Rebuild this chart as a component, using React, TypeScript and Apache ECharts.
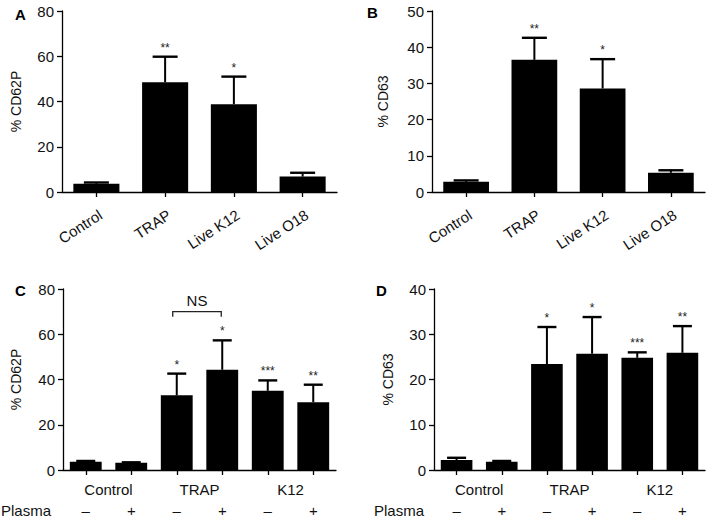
import React, { useEffect, useRef } from "react";
import * as echarts from "echarts";

const catsAB = ["Control", "TRAP", "Live K12", "Live O18"];
const aMean = [3.6, 48.5, 38.8, 6.8];
const aErr = [0.6, 11.3, 12.2, 1.7];
const aStars = ["", "**", "*", ""];
const bMean = [2.8, 36.5, 28.6, 5.3];
const bErr = [0.4, 6.1, 8.1, 0.7];
const bStars = ["", "**", "*", ""];

const groupsCD = ["Control", "TRAP", "K12"];
const plasmaSigns = ["\u2013", "+", "\u2013", "+", "\u2013", "+"];
const cMean = [3.7, 3.2, 33.0, 44.3, 35.0, 30.0];
const cErr = [0.3, 0.2, 9.6, 13.0, 4.6, 7.7];
const cStars = ["", "", "*", "*", "***", "**"];
const dMean = [2.2, 1.8, 23.4, 25.7, 24.8, 25.9];
const dErr = [0.5, 0.2, 8.2, 8.1, 1.2, 5.9];
const dStars = ["", "", "*", "*", "***", "**"];

const nsBracket = { from: 2, to: 3, value: 70, label: "NS" };

const FONT = "'Liberation Sans', Arial, Helvetica, sans-serif";
const INK = "#111";

function errSeries(idx: number, mean: number[], err: number[], stars: string[], capHalf: number) {
  return {
    type: "custom",
    xAxisIndex: idx === 0 ? 0 : idx === 1 ? 1 : idx === 2 ? 2 : 4,
    yAxisIndex: idx,
    z: 5,
    data: mean.map((m, i) => [i, m, err[i]]),
    renderItem: (params: any, api: any) => {
      const i = api.value(0);
      const m = api.value(1);
      const e = api.value(2);
      const base = api.coord([i, m]);
      const top = api.coord([i, m + e]);
      const children: any[] = [
        {
          type: "line",
          shape: { x1: top[0], y1: base[1], x2: top[0], y2: top[1] },
          style: { stroke: "#000", lineWidth: 2 },
        },
        {
          type: "line",
          shape: { x1: top[0] - capHalf, y1: top[1], x2: top[0] + capHalf, y2: top[1] },
          style: { stroke: "#000", lineWidth: 2.4 },
        },
      ];
      const s = stars[params.dataIndex];
      if (s) {
        children.push({
          type: "text",
          x: top[0],
          y: top[1] - 9,
          style: {
            text: s,
            fontSize: 12,
            fontFamily: FONT,
            fill: "#222",
            align: "center",
            verticalAlign: "middle",
          },
        });
      }
      return { type: "group", children };
    },
  };
}

function barSeries(xi: number, yi: number, mean: number[], gap: string) {
  return {
    type: "bar",
    xAxisIndex: xi,
    yAxisIndex: yi,
    data: mean,
    barCategoryGap: gap,
    itemStyle: { color: "#000" },
    z: 2,
  };
}

function yAxis(grid: number, max: number, interval: number, name: string, gap: number) {
  return {
    type: "value",
    gridIndex: grid,
    min: 0,
    max,
    interval,
    name,
    nameLocation: "middle",
    nameGap: gap,
    nameTextStyle: { fontSize: 14, fontFamily: FONT, color: INK },
    axisLine: { show: true, lineStyle: { color: "#000", width: 1.3 } },
    axisTick: { show: true, length: 5, lineStyle: { color: "#000", width: 1.3 } },
    axisLabel: { fontSize: 15, fontFamily: FONT, color: INK, margin: 8 },
    splitLine: { show: false },
  };
}

function mainX(grid: number, data: string[], labelOpts: any) {
  return {
    type: "category",
    gridIndex: grid,
    position: "bottom",
    data,
    axisLine: { show: true, lineStyle: { color: "#000", width: 1.3 } },
    axisTick: { show: true, alignWithLabel: true, length: 5, lineStyle: { color: "#000", width: 1.3 } },
    axisLabel: { fontSize: 15, fontFamily: FONT, color: INK, interval: 0, ...labelOpts },
    splitLine: { show: false },
  };
}

function groupX(grid: number) {
  return {
    type: "category",
    gridIndex: grid,
    position: "bottom",
    data: groupsCD,
    axisLine: { show: false },
    axisTick: { show: false },
    axisLabel: { fontSize: 15, fontFamily: FONT, color: INK, margin: 12, interval: 0 },
    splitLine: { show: false },
  };
}

export default function App() {
  const ref = useRef<HTMLDivElement>(null);
  useEffect(() => {
    if (!ref.current) return;
    const chart = echarts.init(ref.current, undefined, { renderer: "svg" });
    const letter = (t: string, x: number, y: number) => ({
      type: "text",
      x,
      y,
      style: { text: t, fontSize: 15, fontWeight: "bold", fontFamily: FONT, fill: "#000", verticalAlign: "middle" },
    });
    const plasma = (x: number) => ({
      type: "text",
      x,
      y: 510,
      style: { text: "Plasma", fontSize: 15, fontFamily: FONT, fill: INK, verticalAlign: "middle" },
    });
    const rotLabel = { rotate: 33, margin: 15, fontSize: 15, align: "right", verticalAlign: "top" };
    chart.setOption({
      animation: false,
      backgroundColor: "#fff",
      textStyle: { fontFamily: FONT },
      grid: [
        { left: 62, top: 11, width: 275, height: 181 },
        { left: 432, top: 11, width: 273, height: 181 },
        { left: 63, top: 289, width: 273, height: 181 },
        { left: 434, top: 289, width: 271, height: 181 },
      ],
      xAxis: [
        mainX(0, catsAB, rotLabel),
        mainX(1, catsAB, rotLabel),
        mainX(2, plasmaSigns, { margin: 33 }),
        groupX(2),
        mainX(3, plasmaSigns, { margin: 33 }),
        groupX(3),
      ],
      yAxis: [
        yAxis(0, 80, 20, "% CD62P", 39),
        yAxis(1, 50, 10, "% CD63", 42),
        yAxis(2, 80, 20, "% CD62P", 40),
        yAxis(3, 40, 10, "% CD63", 39),
      ],
      series: [
        barSeries(0, 0, aMean, "33%"),
        barSeries(1, 1, bMean, "33%"),
        barSeries(2, 2, cMean, "30%"),
        barSeries(4, 3, dMean, "30%"),
        errSeries(0, aMean, aErr, aStars, 12.5),
        errSeries(1, bMean, bErr, bStars, 12.5),
        errSeries(2, cMean, cErr, cStars, 9.5),
        errSeries(3, dMean, dErr, dStars, 9.5),
        {
          type: "custom",
          xAxisIndex: 2,
          yAxisIndex: 2,
          data: [[nsBracket.from, nsBracket.to, nsBracket.value]],
          renderItem: (params: any, api: any) => {
            const p1 = api.coord([api.value(0), api.value(2)]);
            const p2 = api.coord([api.value(1), api.value(2)]);
            const x1 = p1[0] - 4;
            const x2 = p2[0] - 1;
            const y = p1[1];
            return {
              type: "group",
              children: [
                {
                  type: "polyline",
                  shape: { points: [[x1, y + 5], [x1, y], [x2, y], [x2, y + 5]] },
                  style: { stroke: "#222", lineWidth: 1.3, fill: "none" },
                },
                {
                  type: "text",
                  x: (x1 + x2) / 2,
                  y: y - 11,
                  style: {
                    text: nsBracket.label,
                    fontSize: 15,
                    fontFamily: FONT,
                    fill: INK,
                    align: "center",
                    verticalAlign: "middle",
                  },
                },
              ],
            };
          },
        },
      ],
      graphic: [
        letter("A", 15, 14),
        letter("B", 367, 12),
        letter("C", 15, 290),
        letter("D", 376, 290),
        plasma(1),
        plasma(374),
      ],
    });
    return () => chart.dispose();
  }, []);
  return (
    <div
      ref={ref}
      style={{ position: "fixed", left: 0, top: 0, width: 709, height: 520, background: "#fff" }}
    />
  );
}
